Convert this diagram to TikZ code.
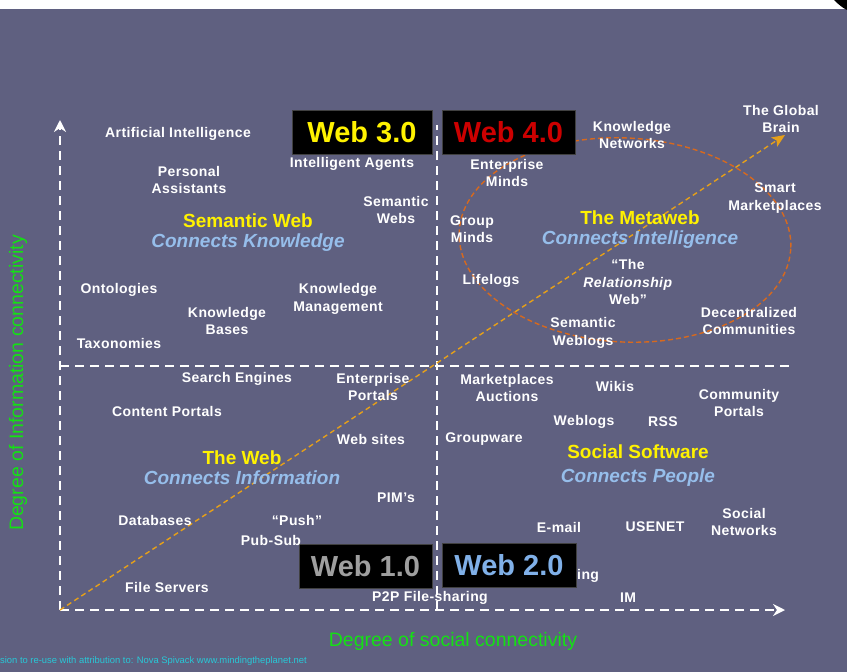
\documentclass[tikz,border=0pt]{standalone}
\usepackage{fontspec}
\setmainfont{Liberation Sans}
\newfontfamily\itemfont[LetterSpace=3]{Liberation Sans}
\usetikzlibrary{arrows.meta}

\definecolor{slate}{RGB}{95,96,128}
\definecolor{mottoblue}{RGB}{150,190,235}
\definecolor{axisgreen}{RGB}{20,225,20}
\definecolor{trendorange}{RGB}{230,160,25}
\definecolor{looporange}{RGB}{215,105,30}
\definecolor{darkred4}{RGB}{204,0,0}
\definecolor{blue2}{RGB}{128,176,232}
\definecolor{footcyan}{RGB}{40,200,215}

% quadrant heading: yellow name over blue motto
\newcommand{\quadhead}[2]{{\color{yellow}#1}\\{\color{mottoblue}\itshape #2}}

\tikzset{
  mapitem/.style={text=white, font=\itemfont\fontsize{14}{17.5}\selectfont\bfseries, align=center, inner sep=0pt},
  eratag/.style={fill=black, draw=gray!50!black, minimum height=44pt, inner sep=0pt,
                 font=\fontsize{29}{30}\selectfont\bfseries},
  quadlabel/.style={font=\fontsize{19}{19.5}\selectfont\bfseries, align=center, inner sep=0pt},
  axisline/.style={white, line width=2.5pt, dash pattern=on 9pt off 6pt,
                   -{Stealth[length=12pt,width=12pt,inset=4pt]}},
  midline/.style={white, line width=2.5pt, dash pattern=on 9pt off 6pt},
  axislbl/.style={text=axisgreen, font=\fontsize{19.5}{20}\selectfont, inner sep=0pt},
}

\begin{document}
\begin{tikzpicture}[x=1pt, y=-1pt]
    % frame: 847 x 672, y grows downwards
    \useasboundingbox (0,0) rectangle (847,672);
    \fill[white] (0,0) rectangle (847,9);
    \fill[slate] (0,9) rectangle (847,672);
    \fill[black] (834,0) .. controls (839,5) and (843,8) .. (847,10) -- (847,0) -- cycle;

    % ===== axes and quadrant lines =====
    \coordinate (origin) at (60,610);
    \coordinate (ytop)   at (60,120);
    \coordinate (xend)   at (785,610);
    \coordinate (vmidtop) at (437,125);
    \coordinate (vmidbot) at (437,610);
    \coordinate (hmidl)  at (60,366);
    \coordinate (hmidr)  at (792,366);
    \coordinate (braintip) at (785,135);

    \draw[midline] (vmidbot) -- (vmidtop);
    \draw[midline] (hmidl) -- (hmidr);
    \draw[axisline] (origin) -- (ytop);
    \draw[axisline] (origin) -- (xend);

    % metaweb loop and the growth trend
    \coordinate (loopc) at (625,240);
    \draw[looporange, line width=1.4pt, dash pattern=on 5pt off 3pt, rotate around={-3:(loopc)}]
      (loopc) ellipse [x radius=166, y radius=102];
    \draw[trendorange, line width=1.4pt, dash pattern=on 5pt off 3.5pt,
          -{Stealth[length=13pt,width=11pt,inset=3pt]}] (origin) -- (braintip);

    % ===== era boxes =====
    \node[eratag, minimum width=140pt, text=yellow]    (web3) at (362,132)   {Web 3.0};
    \node[eratag, minimum width=133pt, text=darkred4]  (web4) at (508.5,132) {Web 4.0};
    \node[eratag, minimum width=133pt, text=gray!75]   (web1) at (365.5,566.5) {Web 1.0};
    \node[eratag, minimum width=134pt, text=blue2]     (web2) at (509,565.5) {Web 2.0};

    % ===== upper left: Semantic Web =====
    \node[quadlabel] (semweb) at (248,232.5) {\quadhead{Semantic Web}{Connects Knowledge}};
    \foreach \nm/\px/\py/\tx in {
        ai/178/134/{Artificial Intelligence},
        pa/189/180/{Personal\\Assistants},
        ia/352/164/{Intelligent Agents},
        sw/396/210/{Semantic\\Webs},
        onto/119/290/{Ontologies},
        kb/227/321/{Knowledge\\Bases},
        km/338/299/{Knowledge\\Management},
        tax/119/343/{Taxonomies}} {
      \node[mapitem] (\nm) at (\px,\py) {\tx};
    }

    % ===== upper right: The Metaweb =====
    \node[quadlabel] (metaweb) at (640,229.5) {\quadhead{The Metaweb}{Connects Intelligence}};
    \foreach \nm/\px/\py/\tx in {
        kn/632/135/{Knowledge\\Networks},
        gb/781/119/{The Global\\Brain},
        em/507/173/{Enterprise\\Minds},
        smk/775/198/{Smart\\Marketplaces},
        gm/472/229/{Group\\Minds},
        life/491/281/{Lifelogs},
        rel/628/282/{“The\\\textit{Relationship}\\Web”},
        dc/749/321/{Decentralized\\Communities},
        swl/583/333/{Semantic\\Weblogs}} {
      \node[mapitem] (\nm) at (\px,\py) {\tx};
    }

    % ===== lower left: The Web =====
    \node[quadlabel] (theweb) at (242,467.5) {\quadhead{The Web}{Connects Information}};
    \foreach \nm/\px/\py/\tx in {
        se/237/379/{Search Engines},
        ep/373/387/{Enterprise\\Portals},
        cp/167/411/{Content Portals},
        ws/371/439/{Web sites},
        pim/396/498/{PIM’s},
        db/155/520/{Databases},
        push/297/520/{“Push”},
        ps/271/540/{Pub-Sub},
        fs/167/587/{File Servers},
        p2p/430/598/{P2P File-sharing}} {
      \node[mapitem] (\nm) at (\px,\py) {\tx};
    }

    % ===== lower right: Social Software =====
    \node[quadlabel, font=\fontsize{19}{24}\selectfont\bfseries] (social) at (638,465.5)
      {\quadhead{Social Software}{Connects People}};
    \foreach \nm/\px/\py/\tx in {
        ma/507/388/{Marketplaces\\Auctions},
        wiki/615/386/{Wikis},
        comp/739/403/{Community\\Portals},
        wl/584/422/{Weblogs},
        rss/663/422/{RSS},
        gw/484/439/{Groupware},
        sn/744/522/{Social\\Networks},
        mail/559/527/{E-mail},
        usenet/655/527/{USENET},
        im/628/598/{IM}} {
      \node[mapitem] (\nm) at (\px,\py) {\tx};
    }
    \node[mapitem, anchor=west] (ing) at (577,576) {ing};

    % ===== axis labels and credit =====
    \node[axislbl] (xlbl) at (453,641) {Degree of social connectivity};
    \node[axislbl, rotate=90] (ylbl) at (18,383) {Degree of Information connectivity};
    \node[text=footcyan, font=\fontsize{9.4}{10}\selectfont, anchor=west, inner sep=0pt]
      (credit) at (0,661) {sion to re-use with attribution to: Nova Spivack www.mindingtheplanet.net};
\end{tikzpicture}
\end{document}
